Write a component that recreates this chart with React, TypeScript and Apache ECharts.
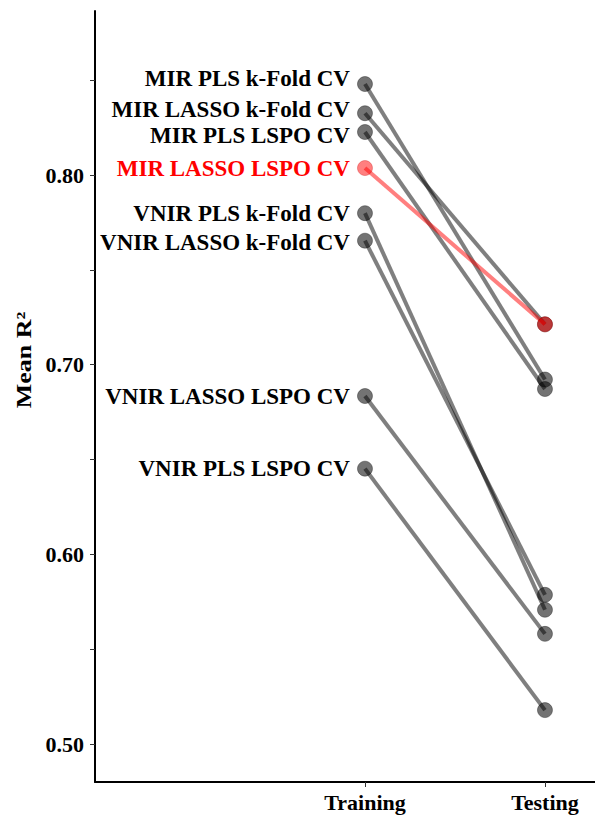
import React, { useEffect, useRef } from "react";
import * as echarts from "echarts";

const models = [
  "MIR PLS k-Fold CV",
  "MIR LASSO k-Fold CV",
  "MIR PLS LSPO CV",
  "MIR LASSO LSPO CV",
  "VNIR PLS k-Fold CV",
  "VNIR LASSO k-Fold CV",
  "VNIR LASSO LSPO CV",
  "VNIR PLS LSPO CV",
];
const trainingR2 = [0.848, 0.8326, 0.8227, 0.8037, 0.7799, 0.7654, 0.6835, 0.6452];
const testingR2 = [0.6922, 0.7213, 0.6872, 0.7213, 0.5708, 0.5787, 0.5581, 0.5179];
const highlighted = "MIR LASSO LSPO CV";
const phases = ["Training", "Testing"];
const yLabelValues = [0.5, 0.6, 0.7, 0.8];
const yTickValues = [0.5, 0.55, 0.6, 0.65, 0.7, 0.75, 0.8, 0.85];
const labelNudge = [-6, -4, 3, 0, 0, 2, 0, 0];
const yTitle = "Mean R²";

const FONT = "'Liberation Serif', 'Times New Roman', serif";

export default function App() {
  const ref = useRef<HTMLDivElement>(null);
  useEffect(() => {
    if (!ref.current) return;
    const chart = echarts.init(ref.current, undefined, { renderer: "svg" });
    const series = models.map((m, i) => {
      const hl = m === highlighted;
      const lineColor = hl ? "rgba(255,0,0,0.5)" : "rgba(0,0,0,0.5)";
      const dotColor = hl ? "rgba(255,0,0,0.5)" : "rgba(0,0,0,0.55)";
      return {
        type: "line",
        name: m,
        z: hl ? 5 : 2,
        symbol: "circle",
        symbolSize: 15,
        lineStyle: { color: lineColor, width: 4 },
        itemStyle: { color: dotColor, borderColor: hl ? "rgba(200,0,0,0.3)" : "rgba(0,0,0,0.35)", borderWidth: 1 },
        data: [
          {
            value: [1, trainingR2[i]],
            label: {
              show: true,
              position: "left",
              distance: 7,
              offset: [0, labelNudge[i]],
              formatter: m,
              color: hl ? "#ff0000" : "#000000",
              fontFamily: FONT,
              fontWeight: "bold",
              fontSize: 23,
            },
          },
          { value: [2, testingR2[i]] },
        ],
      };
    });
    chart.setOption({
      animation: false,
      backgroundColor: "#ffffff",
      grid: { left: 95, right: 0, top: 11, bottom: 34, containLabel: false },
      graphic: [
        {
          type: "text",
          x: 24,
          y: 360,
          rotation: Math.PI / 2,
          scaleX: 1.18,
          style: {
            text: yTitle,
            fill: "#000",
            font: "bold 22px " + FONT,
            align: "center",
            verticalAlign: "middle",
          },
        },
      ],
      xAxis: {
        type: "value",
        min: -0.5,
        max: 2.278,
        splitLine: { show: false },
        axisLine: { show: true, onZero: false, lineStyle: { color: "#000", width: 2 } },
        axisTick: { show: true, customValues: [1, 2], length: 5, lineStyle: { color: "#333", width: 1 } },
        axisLabel: {
          customValues: [1, 2],
          formatter: (v: number) => phases[Math.round(v) - 1] || "",
          margin: 9,
          color: "#000",
          fontFamily: FONT,
          fontWeight: "bold",
          fontSize: 22,
        },
      },
      yAxis: {
        type: "value",
        min: 0.48,
        max: 0.8865,
        splitLine: { show: false },
        axisLine: { show: true, onZero: false, lineStyle: { color: "#000", width: 2 } },
        axisTick: { show: true, customValues: yTickValues, length: 5, lineStyle: { color: "#333", width: 1 } },
        axisLabel: {
          customValues: yLabelValues,
          formatter: (v: number) => v.toFixed(2),
          margin: 11,
          color: "#000",
          fontFamily: FONT,
          fontWeight: "bold",
          fontSize: 22,
        },
      },
      series,
    });
    return () => chart.dispose();
  }, []);
  return (
    <div
      ref={ref}
      style={{ position: "fixed", left: 0, top: 0, width: 595, height: 816, background: "#fff" }}
    />
  );
}
